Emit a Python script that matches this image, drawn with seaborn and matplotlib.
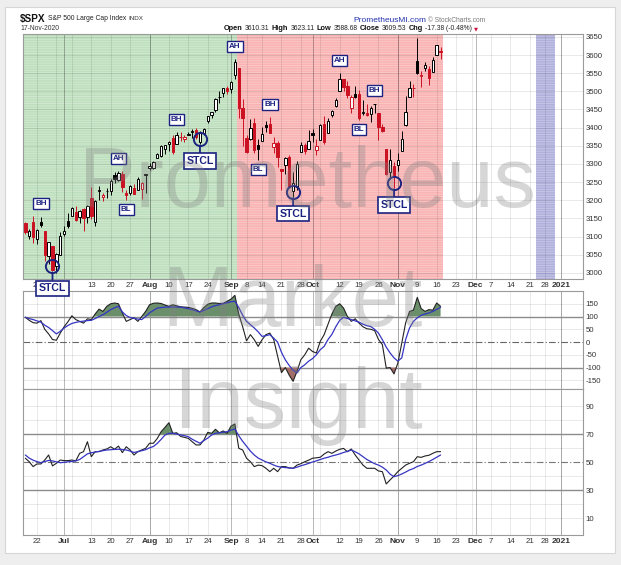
import numpy as np
import pandas as pd
import matplotlib
matplotlib.use("Agg")
import matplotlib.pyplot as plt
import matplotlib.transforms as mtransforms
from matplotlib.patches import Rectangle
import seaborn as sns

# --- S&P 500 daily candles, 17-Jun-2020 .. 17-Nov-2020 ---
opens = [3136.13, 3101.64, 3140.29, 3094.42, 3138.70, 3114.40, 3046.60, 3073.20, 3018.59, 3050.20,
         3105.92, 3143.64, 3155.29, 3166.44, 3153.07, 3176.17, 3152.47, 3205.08, 3141.11, 3225.98,
         3208.36, 3224.21, 3224.29, 3268.52, 3254.86, 3271.64, 3218.58, 3219.84, 3234.27, 3227.22,
         3231.76, 3270.45, 3288.26, 3289.92, 3317.37, 3323.17, 3340.05, 3356.04, 3370.34, 3355.46,
         3372.95, 3368.66, 3380.86, 3387.04, 3392.51, 3360.48, 3386.01, 3418.09, 3435.95, 3449.97,
         3485.14, 3494.69, 3509.73, 3507.44, 3543.76, 3564.74, 3453.60, 3371.88, 3369.82, 3412.56,
         3352.70, 3363.56, 3407.73, 3411.23, 3346.86, 3357.38, 3285.57, 3295.75, 3320.11, 3226.14,
         3236.66, 3333.90, 3350.92, 3341.21, 3385.87, 3338.94, 3367.27, 3408.74, 3384.56, 3434.28,
         3459.67, 3500.02, 3534.01, 3515.47, 3453.72, 3493.50, 3493.66, 3439.38, 3439.91, 3438.50,
         3464.90, 3441.42, 3403.15, 3342.48, 3277.17, 3293.59, 3296.20, 3336.25, 3406.46, 3485.74,
         3508.34, 3583.04, 3543.26, 3563.22, 3562.67, 3552.57, 3600.16, 3610.31]
highs = [3141.16, 3120.00, 3155.53, 3120.92, 3154.90, 3115.01, 3086.25, 3073.73, 3053.89, 3111.51,
         3128.44, 3165.81, 3182.59, 3184.15, 3171.80, 3179.78, 3186.82, 3235.32, 3200.95, 3238.28,
         3220.39, 3233.52, 3258.61, 3277.29, 3279.32, 3279.99, 3227.26, 3241.43, 3243.72, 3264.74,
         3250.92, 3272.17, 3302.73, 3306.84, 3330.77, 3351.03, 3352.54, 3363.29, 3381.01, 3387.89,
         3387.24, 3378.51, 3387.59, 3395.06, 3399.54, 3390.80, 3399.96, 3432.09, 3444.21, 3481.07,
         3501.38, 3509.23, 3514.77, 3528.03, 3588.11, 3564.85, 3479.15, 3379.97, 3424.77, 3425.55,
         3368.95, 3402.93, 3419.48, 3428.92, 3375.17, 3362.27, 3285.57, 3320.31, 3323.35, 3278.70,
         3306.88, 3360.74, 3357.92, 3393.56, 3397.18, 3369.10, 3409.57, 3431.56, 3426.26, 3447.28,
         3482.34, 3549.85, 3534.01, 3527.94, 3489.08, 3515.76, 3502.42, 3476.93, 3464.86, 3460.53,
         3466.46, 3441.42, 3409.51, 3342.48, 3341.05, 3304.93, 3330.14, 3389.49, 3486.25, 3529.05,
         3521.58, 3645.99, 3557.22, 3581.16, 3569.02, 3593.66, 3628.51, 3623.11]
lows = [3108.03, 3093.51, 3083.11, 3079.39, 3127.12, 3032.13, 3024.01, 3004.63, 2999.74, 3047.83,
        3101.17, 3124.52, 3155.29, 3142.93, 3136.53, 3115.70, 3136.22, 3149.43, 3127.66, 3200.76,
        3198.59, 3205.65, 3215.16, 3247.77, 3253.10, 3222.66, 3200.05, 3214.25, 3216.17, 3227.22,
        3204.13, 3220.26, 3284.53, 3286.37, 3317.37, 3318.14, 3328.72, 3335.44, 3326.44, 3355.46,
        3363.35, 3361.64, 3379.22, 3370.15, 3369.66, 3354.69, 3379.31, 3413.13, 3425.84, 3444.15,
        3468.35, 3484.32, 3493.25, 3494.60, 3535.23, 3427.41, 3349.63, 3329.27, 3366.84, 3329.25,
        3310.47, 3363.56, 3389.25, 3384.45, 3328.82, 3292.40, 3229.10, 3270.95, 3232.57, 3209.45,
        3228.44, 3332.91, 3327.54, 3340.47, 3361.39, 3323.69, 3367.27, 3354.54, 3384.56, 3428.15,
        3458.07, 3499.61, 3500.86, 3480.55, 3440.89, 3480.45, 3419.93, 3435.65, 3433.06, 3415.34,
        3440.45, 3364.86, 3388.71, 3268.89, 3259.82, 3233.94, 3279.74, 3336.25, 3405.17, 3485.74,
        3484.34, 3547.48, 3511.91, 3557.00, 3518.58, 3552.57, 3600.16, 3588.68]
closes = [3113.49, 3115.34, 3097.74, 3117.86, 3131.29, 3050.33, 3083.76, 3009.05, 3053.24, 3100.29,
          3115.86, 3130.01, 3179.72, 3145.32, 3169.94, 3152.05, 3185.04, 3155.22, 3197.52, 3226.56,
          3215.57, 3224.73, 3251.84, 3257.30, 3276.02, 3235.66, 3215.63, 3239.41, 3218.44, 3258.44,
          3246.22, 3271.12, 3294.61, 3306.51, 3327.77, 3349.16, 3351.28, 3360.47, 3333.69, 3380.35,
          3373.43, 3372.85, 3381.99, 3389.78, 3374.85, 3385.51, 3397.16, 3431.28, 3443.62, 3478.73,
          3484.55, 3508.01, 3500.31, 3526.65, 3580.84, 3455.06, 3426.96, 3331.84, 3398.96, 3339.19,
          3340.97, 3383.54, 3401.20, 3385.49, 3357.01, 3319.47, 3281.06, 3315.57, 3236.92, 3246.59,
          3298.46, 3351.60, 3335.47, 3363.00, 3380.80, 3348.42, 3408.60, 3360.97, 3419.44, 3446.83,
          3477.14, 3534.22, 3511.93, 3488.67, 3483.34, 3483.81, 3426.92, 3443.12, 3435.56, 3453.49,
          3465.39, 3400.97, 3390.68, 3271.03, 3310.11, 3269.96, 3310.24, 3369.16, 3443.44, 3510.45,
          3509.44, 3550.50, 3545.53, 3572.66, 3537.01, 3585.15, 3626.91, 3609.53]
prev_close = 3124.74

# --- CCI and its moving average ---
cci = [97, 85, 76, 74, 84, 50, 32, 10, 7, 35, 60, 80, 103, 88, 81, 74, 91, 88, 110, 129,
       120, 140, 150, 153, 150, 114, 81, 88, 95, 81, 100, 120, 146, 152, 153, 151, 145, 140, 146, 142,
       138, 137, 136, 132, 127, 118, 135, 148, 153, 153, 151, 152, 160, 168, 183, 110, 60, 5, 29, 9,
       -17, 9, 29, 35, 10, -55, -120, -100, -130, -154, -115, -69, -50, -24, -37, -43, 3, 29, 70, 110,
       140, 150, 133, 100, 81, 91, 74, 60, 52, 50, 45, 10, -10, -102, -100, -125, -82, -4, 75, 120,
       125, 175, 131, 120, 127, 125, 153, 140]
cci_ma = [97, 92, 88, 83, 78, 66, 57, 45, 32, 42, 55, 65, 73, 77, 80, 82, 84, 85, 92, 100,
          107, 117, 127, 134, 140, 118, 104, 96, 93, 90, 88, 100, 114, 124, 133, 135, 137, 137, 137, 137,
          137, 134, 131, 127, 122, 118, 124, 131, 138, 143, 146, 150, 154, 158, 160, 135, 105, 81, 68, 55,
          40, 22, 25, 29, 15, 0, -40, -70, -92, -110, -121, -100, -89, -75, -65, -50, -30, -17, 10, 30,
          60, 85, 97, 92, 88, 83, 78, 70, 64, 61, 50, 35, 9, -20, -43, -62, -75, -62, 10, 55,
          81, 95, 105, 110, 114, 120, 128, 136]

# --- RSI and its moving average ---
rsi = [52.9, 50.4, 46.9, 48.8, 48.8, 51.6, 55.2, 47.4, 49.3, 51.6, 51.2, 51.2, 51.6, 51.0, 56.4, 57.6,
       64.7, 54.0, 57.6, 57.6, 58.8, 59.5, 61.1, 59.3, 61.6, 56.9, 61.1, 58.8, 55.2, 57.6, 58.8, 60.0,
       63.6, 63.6, 67.0, 71.9, 75.0, 78.3, 70.7, 71.1, 68.5, 67.8, 67.1, 64.7, 62.4, 62.4, 65.9, 71.4,
       70.7, 73.6, 71.1, 72.4, 70.7, 75.9, 77.4, 60.0, 58.8, 52.9, 50.4, 46.9, 48.0, 47.6, 45.7, 43.3,
       45.7, 43.3, 46.9, 46.9, 46.0, 45.7, 48.0, 49.0, 50.4, 51.5, 52.9, 53.2, 53.6, 55.9, 57.6, 56.4,
       58.0, 59.3, 59.9, 57.6, 59.5, 55.2, 51.6, 48.0, 45.7, 45.7, 45.7, 43.8, 43.3, 34.5, 37.4, 40.2,
       43.3, 45.7, 48.0, 49.3, 50.4, 54.0, 53.5, 54.5, 55.0, 56.4, 57.6, 57.6]
rsi_ma = [55.2, 53.0, 51.5, 50.5, 49.7, 50.5, 51.3, 51.0, 50.3, 49.7, 50.0, 50.3, 50.6, 51.0, 52.0, 54.0,
          56.0, 56.8, 57.3, 57.8, 58.3, 58.8, 59.0, 59.2, 59.3, 59.1, 58.8, 58.0, 57.0, 57.6, 58.3, 59.0,
          60.3, 61.3, 63.5, 66.4, 69.5, 70.7, 70.7, 70.2, 69.6, 69.0, 68.3, 66.5, 65.0, 63.6, 65.5, 67.3,
          69.5, 70.7, 71.1, 71.5, 71.9, 73.0, 73.8, 69.0, 65.0, 61.5, 58.0, 55.2, 53.0, 51.6, 50.3, 49.3,
          48.0, 47.0, 46.5, 46.2, 45.9, 45.7, 46.5, 47.5, 48.3, 49.2, 50.2, 51.0, 52.0, 52.9, 53.6, 54.5,
          55.2, 56.0, 57.0, 57.8, 58.8, 57.5, 56.0, 54.0, 52.0, 50.5, 49.0, 48.0, 46.5, 44.5, 41.5, 39.7,
          40.5, 41.6, 43.0, 44.5, 45.5, 47.0, 48.0, 49.2, 50.5, 52.0, 53.6, 55.2]

# candles tagged on the chart
tags = [(4, "BH", "high"), (24, "AH", "high"), (26, "BL", "low"), (39, "BH", "high"),
        (54, "AH", "high"), (60, "BL", "low"), (63, "BH", "high"), (81, "AH", "high"),
        (86, "BL", "low"), (90, "BH", "high")]
stcl_days = [7, 45, 69, 95]

holidays = pd.to_datetime(["2020-07-03", "2020-09-07", "2020-11-26", "2020-12-25", "2021-01-01"])
days = pd.bdate_range("2020-06-17", "2021-01-15")
days = days[~days.isin(holidays)]

sns.set_theme(style="white")
plt.rcParams["font.family"] = ["Liberation Sans", "DejaVu Sans"]
plt.rcParams["hatch.linewidth"] = 0.6
plt.rcParams["axes.unicode_minus"] = False

W, H = 621, 565
fig = plt.figure(figsize=(W / 100, H / 100), dpi=100)
fig.patch.set_facecolor("#eeeeee")
fig.patches.append(Rectangle((5 / W, 1 - 553 / H), 610 / W, 546 / H, transform=fig.transFigure,
                             facecolor="white", edgecolor="#d6d6d6", lw=0.8, zorder=-5))


def px_rect(l, t, r, b):
    return [l / W, 1 - b / H, (r - l) / W, (b - t) / H]


ax_p = fig.add_axes(px_rect(23, 34, 583, 279))
ax_c = fig.add_axes(px_rect(23, 291, 583, 389))
ax_r = fig.add_axes(px_rect(23, 389, 583, 535))
ax_c.set_zorder(1)
ax_r.set_zorder(1)
ax_p.set_zorder(3)

navy = "#1c2280"
red = "#cc1122"
x = np.arange(len(closes))
o, hi, lo, c = map(np.array, (opens, highs, lows, closes))
cci, cci_ma, rsi, rsi_ma = map(np.array, (cci, cci_ma, rsi, rsi_ma))

# x ticks: first trading day of each week / month
pos = np.arange(len(days))
wk = days.isocalendar().week.values
week_new = np.r_[False, wk[1:] != wk[:-1]]
month_new = np.r_[False, days.month.values[1:] != days.month.values[:-1]]
week_pos = [p for p in pos if week_new[p] and p <= 140]
month_pos = [p for p in pos if month_new[p] and p <= 140]
tick_pos, tick_lab, tick_bold = [], [], []
for p in sorted(set(week_pos) | set(month_pos)):
    if p in month_pos:
        d = days[p]
        tick_lab.append(str(d.year) if d.month == 1 else d.strftime("%b"))
        tick_bold.append(True)
    elif min(abs(p - m) for m in month_pos) <= 2:
        tick_lab.append("")
        tick_bold.append(False)
    else:
        tick_lab.append(str(days[p].day))
        tick_bold.append(False)
    tick_pos.append(p)

for ax in (ax_p, ax_c, ax_r):
    ax.set_xlim(-0.6, 143.7)
    ax.set_facecolor("white")
    for s in ax.spines.values():
        s.set_color("#9a9a9a")
        s.set_linewidth(0.8)
    for p in week_pos:
        ax.axvline(p, color="black", alpha=0.1, lw=0.6, zorder=1.2)
    for p in month_pos:
        ax.axvline(p, color="black", alpha=0.28, lw=0.7, zorder=1.2)
    ax.set_xticks(tick_pos)
    ax.yaxis.tick_right()
    ax.tick_params(axis="both", length=0, labelsize=5.6, pad=2, colors="#333333")

for ax in (ax_p, ax_r):
    ax.set_xticklabels(tick_lab)
    for t, b in zip(ax.get_xticklabels(), tick_bold):
        if b:
            t.set_fontweight("bold")
            t.set_fontsize(6)
ax_c.set_xticklabels([])
ax_r.set_xticks(pos[pos <= 143], minor=True)
ax_r.tick_params(axis="x", which="minor", length=1.5, direction="in", color="#aaaaaa")

# --- price panel ---
ax_p.set_ylim(2983, 3658)
ax_p.set_yticks(np.arange(3000, 3651, 50))
for v in np.arange(3000, 3651, 50):
    ax_p.axhline(v, color="black", alpha=0.1, lw=0.6, zorder=1.2)
ax_p.axvspan(-0.6, 54.5, facecolor="#bddfbd", edgecolor="#d3ead3", hatch="-------", lw=0, zorder=1)
ax_p.axvspan(54.5, 107.5, facecolor="#f9b3b3", edgecolor="#fbcaca", hatch="-------", lw=0, zorder=1)
ax_p.axvspan(131.5, 136.5, facecolor="#b0b0dc", edgecolor="#c9c9ea", hatch="-------", lw=0, zorder=1)

prev = np.r_[prev_close, c[:-1]]
edge = np.where(c >= prev, "black", red)
face = np.where(c > o, "white", edge)
ax_p.vlines(x, lo, hi, colors=edge, lw=0.7, zorder=3)
ax_p.bar(x, np.maximum(np.abs(c - o), 1.0), bottom=np.minimum(o, c), width=0.62,
         color=face, edgecolor=edge, lw=0.7, zorder=4)

lab_kw = dict(textcoords="offset pixels", ha="center", va="center", color=navy,
              annotation_clip=False, zorder=10)
box_small = dict(boxstyle="square,pad=0.25", fc="white", ec=navy, lw=1.0)
for i, txt, side in tags:
    if side == "high":
        ax_p.annotate(txt, xy=(x[i], hi[i]), xytext=(0, 13), fontsize=5.8, fontweight="bold",
                      bbox=box_small, **lab_kw)
    else:
        ax_p.annotate(txt, xy=(x[i], lo[i]), xytext=(0, -9), fontsize=5.8, fontweight="bold",
                      bbox=box_small, **lab_kw)

up5 = mtransforms.offset_copy(ax_p.transData, fig=fig, x=0, y=5, units="dots")
for i in stcl_days:
    ax_p.plot([x[i]], [lo[i]], marker="o", ms=9.5, mfc="none", mec=navy, mew=1.4,
              transform=up5, zorder=9, clip_on=False)
    ax_p.annotate("STCL", xy=(x[i], lo[i]), xycoords=up5, xytext=(0, -22), fontsize=7.6,
                  fontweight="bold",
                  bbox=dict(boxstyle="square,pad=0.25", fc="white", ec=navy, lw=1.2),
                  arrowprops=dict(arrowstyle="-", color=navy, lw=1.3, shrinkA=0, shrinkB=4.6),
                  **lab_kw)

# --- CCI panel ---
ax_c.set_ylim(-184, 200)
ax_c.set_yticks(np.arange(-150, 151, 50))
for v in (-150, -50, 50, 150):
    ax_c.axhline(v, color="black", alpha=0.1, lw=0.6, zorder=1.2)
ax_c.axhline(100, color="#8c8c8c", lw=1.0, zorder=1.5)
ax_c.axhline(-100, color="#8c8c8c", lw=1.0, zorder=1.5)
ax_c.axhline(0, color="#666666", lw=0.8, ls=(0, (6, 2, 1, 2)), zorder=1.5)
ax_c.fill_between(x, cci, 100, where=cci >= 100, interpolate=True, color="#6a8f6a", lw=0, zorder=2)
ax_c.fill_between(x, cci, -100, where=cci <= -100, interpolate=True, color="#a46c67", lw=0, zorder=2)
sns.lineplot(x=x, y=cci, ax=ax_c, color="#222222", lw=0.8, zorder=4)
sns.lineplot(x=x, y=cci_ma, ax=ax_c, color="#3535c4", lw=0.9, zorder=5)
ax_c.set_xlabel("")
ax_c.set_ylabel("")

# --- RSI panel ---
ax_r.set_ylim(-2, 102.4)
ax_r.set_yticks([10, 30, 50, 70, 90])
for v in (10, 20, 40, 60, 80, 90):
    ax_r.axhline(v, color="black", alpha=0.1, lw=0.6, zorder=1.2)
ax_r.axhline(70, color="#8c8c8c", lw=1.0, zorder=1.5)
ax_r.axhline(30, color="#8c8c8c", lw=1.0, zorder=1.5)
ax_r.axhline(50, color="#777777", lw=0.8, ls=(0, (6, 2, 1, 2)), zorder=1.5)
ax_r.fill_between(x, rsi, 70, where=rsi >= 70, interpolate=True, color="#6a8f6a", lw=0, zorder=2)
sns.lineplot(x=x, y=rsi, ax=ax_r, color="#222222", lw=0.8, zorder=4)
sns.lineplot(x=x, y=rsi_ma, ax=ax_r, color="#3535c4", lw=0.9, zorder=5)
ax_r.set_xlabel("")
ax_r.set_ylabel("")

# --- header: pieces laid out left to right ---
renderer = fig.canvas.get_renderer()


def text_run(px, py, pieces, gap=2.5):
    for s, kw in pieces:
        t = fig.text(px / W, 1 - py / H, s, va="center", ha="left", **kw)
        px += t.get_window_extent(renderer).width + gap


text_run(20, 19, [("$SPX", dict(fontsize=7.2, fontweight="bold", color="#111111")),
                  ("S&P 500 Large Cap Index", dict(fontsize=4.9, color="#222222")),
                  ("INDX", dict(fontsize=4.5, color="#333333"))])
text_run(20, 29, [("17-Nov-2020", dict(fontsize=4.9, color="#333333"))])
text_run(353, 20, [("PrometheusMI.com", dict(fontsize=6.0, color="#2233aa")),
                   ("\u00a9 StockCharts.com", dict(fontsize=4.8, color="#777777"))])
bold = dict(fontsize=5.3, fontweight="bold", color="#111111")
norm = dict(fontsize=4.9, color="#222222")
text_run(224, 29, [("Open", bold), ("3610.31", norm), ("High", bold), ("3623.11", norm),
                   ("Low", bold), ("3588.68", norm), ("Close", bold), ("3609.53", norm),
                   ("Chg", bold), ("-17.38 (-0.48%)", norm),
                   ("\u25bc", dict(fontsize=3.8, color="#cc1144", family=["DejaVu Sans"]))], gap=2.2)

# --- watermark ---
for s, px, py in (("Prometheus", 307, 207), ("Market", 293, 326), ("Insight", 298, 428)):
    fig.text(px / W, 1 - py / H, s, ha="center", va="baseline", fontsize=61,
             color="#808080", alpha=0.32, zorder=50)

fig.savefig("out.png", dpi=100, facecolor=fig.get_facecolor())
